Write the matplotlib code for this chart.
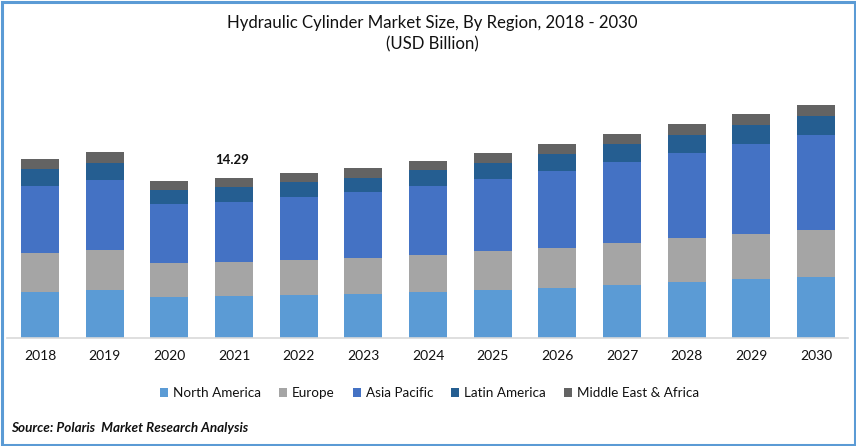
import matplotlib
matplotlib.use("Agg")
import matplotlib.pyplot as plt
from matplotlib.patches import Rectangle

years = ["2018", "2019", "2020", "2021", "2022", "2023", "2024", "2025", "2026", "2027", "2028", "2029", "2030"]
north_america = [4.11, 4.29, 3.66, 3.75, 3.84, 3.93, 4.11, 4.29, 4.46, 4.73, 5.00, 5.27, 5.45]
europe = [3.48, 3.57, 3.04, 3.04, 3.13, 3.21, 3.30, 3.48, 3.57, 3.75, 3.93, 4.02, 4.20]
asia_pacific = [5.98, 6.25, 5.27, 5.36, 5.63, 5.89, 6.16, 6.43, 6.88, 7.23, 7.59, 8.04, 8.48]
latin_america = [1.52, 1.52, 1.25, 1.34, 1.34, 1.25, 1.43, 1.43, 1.52, 1.61, 1.61, 1.70, 1.70]
mea = [0.89, 0.98, 0.80, 0.80, 0.80, 0.89, 0.80, 0.89, 0.89, 0.89, 0.98, 0.98, 0.98]

series = [
    ("North America", north_america, "#5B9BD5"),
    ("Europe", europe, "#A5A5A5"),
    ("Asia Pacific", asia_pacific, "#4472C4"),
    ("Latin America", latin_america, "#255E91"),
    ("Middle East & Africa", mea, "#636363"),
]

plt.rcParams["font.family"] = ["Lato", "DejaVu Sans"]

W, H = 856, 446
fig = plt.figure(figsize=(W / 100, H / 100), dpi=100)

# axes placed in pixels: baseline at y=338, bars spaced about 64.67 px
ax = fig.add_axes([7 / W, (H - 338) / H, 841 / W, 258 / H])
step = 64.67
ax.set_xlim((7 - 40) / step, (848 - 40) / step)
ax.set_ylim(0, 258 / 11.2)

bottom = [0] * len(years)
for name, values, color in series:
    ax.bar(range(len(years)), values, 38 / step, bottom=bottom, color=color, label=name)
    bottom = [b + v for b, v in zip(bottom, values)]

ax.text(2.97, 14.29 + 1.07, "14.29", ha="center", va="bottom", fontsize=9.5, fontweight="bold", color="#111111")

ax.set_xticks(range(len(years)))
ax.set_xticklabels(years, fontsize=10, color="#111111")
ax.tick_params(axis="x", length=0, pad=9)
ax.set_yticks([])
for side in ["top", "left", "right"]:
    ax.spines[side].set_visible(False)
ax.spines["bottom"].set_color("#D9D9D9")
ax.spines["bottom"].set_linewidth(1.2)

fig.text(432.5 / W, 1 - 23 / H, "Hydraulic Cylinder Market Size, By Region, 2018 - 2030",
         ha="center", va="center", fontsize=12.1, color="#111111")
fig.text(432.5 / W, 1 - 44 / H, "(USD Billion)", ha="center", va="center", fontsize=12.1, color="#111111")

fig.legend(loc="center", bbox_to_anchor=(429.5 / W, 1 - 393 / H), ncol=5, frameon=False, fontsize=9.7,
           handlelength=0.6, handleheight=0.6, handletextpad=0.35, columnspacing=1.35, labelcolor="#111111")

fig.text(11 / W, 1 - 428 / H, "Source: Polaris  Market Research Analysis", ha="left", va="center",
         fontsize=9.75, fontweight="bold", fontstyle="italic", color="#111111")

# blue frame around the whole picture
fig.add_artist(Rectangle((1.5 / W, 1.5 / H), (W - 3) / W, (H - 3) / H, transform=fig.transFigure,
                         fill=False, edgecolor="#5B9BD5", linewidth=2.2))

fig.savefig("out.png", dpi=100)
